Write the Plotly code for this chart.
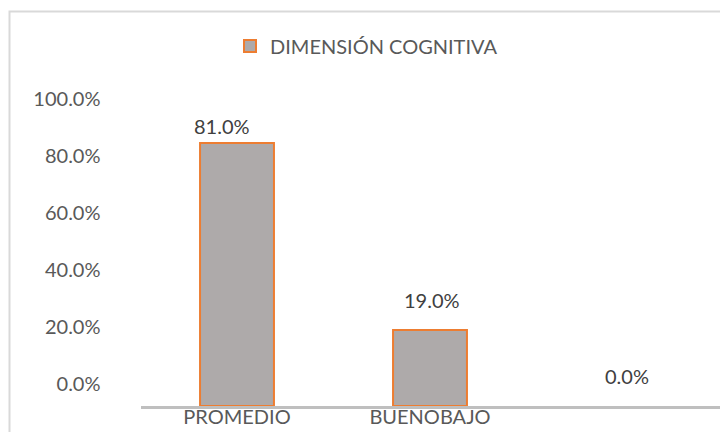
import plotly.graph_objects as go

# ---- data ----
categories = ["PROMEDIO", "BUENO", "BAJO"]
values = [0.81, 0.19, 0.0]
tick_labels_x = ["PROMEDIO", "BUENOBAJO", ""]
series_name = "DIMENSIÓN COGNITIVA"
y_tick_values = [0.0, 0.2, 0.4, 0.6, 0.8, 1.0]

# ---- layout geometry (pixels in a 720x432 page) ----
W, H = 720, 432
PLOT_LEFT, PLOT_RIGHT = 140.5, 719.5
PLOT_TOP, PLOT_BOTTOM = 80.0, 406.0

# bar axis: zero pixel and pixels-per-unit
BAR_ZERO, BAR_SCALE = 387.3, 301.6
bar_min = -(PLOT_BOTTOM - BAR_ZERO) / BAR_SCALE
bar_max = (BAR_ZERO - PLOT_TOP) / BAR_SCALE
# label axis
LAB_ZERO, LAB_SCALE = 384.0, 285.0
lab_min = -(PLOT_BOTTOM - LAB_ZERO) / LAB_SCALE
lab_max = (LAB_ZERO - PLOT_TOP) / LAB_SCALE

bases = [bar_min if v > 0 else 0 for v in values]
heights = [(v - b) if v > 0 else None for v, b in zip(values, bases)]

FONT = "Lato"
TXT = "#595959"

fig = go.Figure()
fig.add_trace(go.Bar(
    x=categories, y=heights, base=bases, name=series_name,
    marker=dict(color="#AEAAAA", line=dict(color="#ED7D31", width=2)),
    yaxis="y", showlegend=True, hoverinfo="skip",
))
# invisible carrier so the percentage axis is drawn
fig.add_trace(go.Scatter(
    x=categories, y=values, yaxis="y2", mode="markers",
    marker=dict(opacity=0), showlegend=False, hoverinfo="skip",
))

label_xshift = [-15, 2, 4]
label_yshift = [17, 30, 11]
for c, v, dx, dy in zip(categories, values, label_xshift, label_yshift):
    fig.add_annotation(x=c, y=v, xref="x", yref="y", text=f"{v*100:.1f}%",
                       showarrow=False, xanchor="center", yanchor="middle",
                       xshift=dx, yshift=dy,
                       font=dict(family=FONT, size=20, color="#404040"))

fig.add_shape(type="rect", xref="paper", yref="paper",
              x0=9.5 / W, x1=1.05, y0=-0.1, y1=1 - 11.5 / H,
              line=dict(color="#D9D9D9", width=2), layer="below")

fig.update_layout(
    width=W, height=H,
    margin=dict(l=0, r=0, t=0, b=0),
    paper_bgcolor="white", plot_bgcolor="rgba(0,0,0,0)",
    font=dict(family=FONT, size=20, color=TXT),
    bargap=0.617,
    xaxis=dict(domain=[PLOT_LEFT / W, PLOT_RIGHT / W],
               categoryorder="array", categoryarray=categories,
               tickmode="array", tickvals=categories, ticktext=tick_labels_x,
               showline=True, linecolor="#BFBFBF", linewidth=3,
               showgrid=False, zeroline=False, ticks="",
               ticklabelstandoff=-9,
               tickfont=dict(family=FONT, size=20, color=TXT),
               anchor="y"),
    yaxis=dict(domain=[1 - PLOT_BOTTOM / H, 1 - PLOT_TOP / H],
               range=[bar_min, bar_max], showticklabels=False,
               showgrid=False, zeroline=False, showline=False),
    yaxis2=dict(overlaying="y", side="left", range=[lab_min, lab_max],
                tickmode="array", tickvals=y_tick_values, tickformat=".1%",
                showgrid=False, zeroline=False, showline=False, ticks="",
                ticklabelstandoff=39,
                tickfont=dict(family=FONT, size=20, color=TXT)),
    legend=dict(orientation="h", x=230 / W, xanchor="left",
                y=1 - 46 / H, yanchor="middle",
                font=dict(family=FONT, size=20, color=TXT),
                bgcolor="rgba(0,0,0,0)"),
)

fig.write_html("out.html", config={"displayModeBar": False},
               post_script="document.body.style.margin='0';")
